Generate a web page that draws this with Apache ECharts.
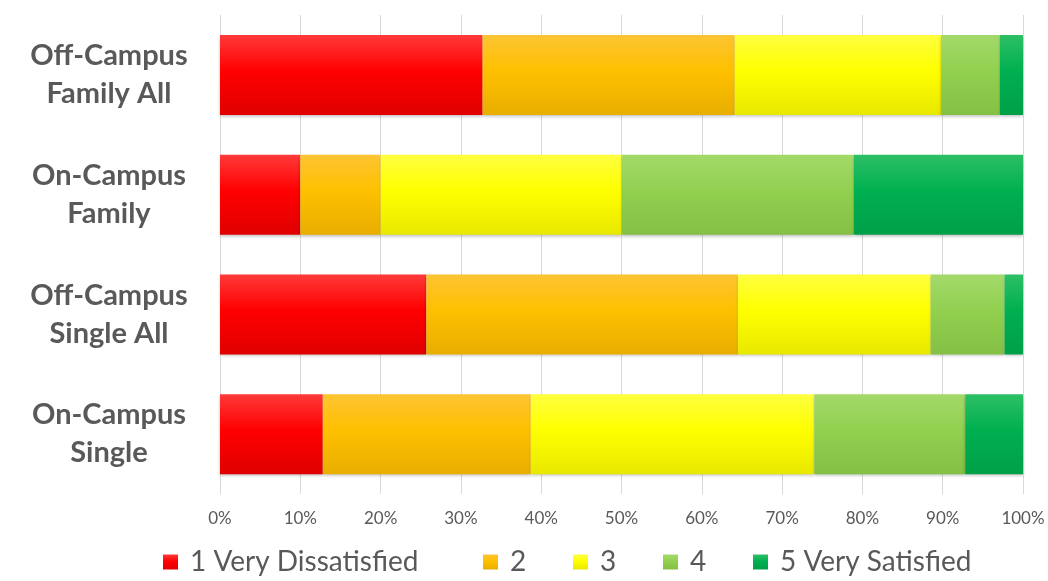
<!DOCTYPE html>
<html>
<head>
<meta charset="utf-8">
<script src="https://cdn.jsdelivr.net/npm/echarts@6/dist/echarts.min.js"></script>
<style>
html,body{margin:0;padding:0;background:#fff;}
#c{width:1048px;height:581px;}
</style>
</head>
<body>
<div id="c"></div>
<script>
const categories = ["Off-Campus\nFamily All", "On-Campus\nFamily", "Off-Campus\nSingle All", "On-Campus\nSingle"];
const seriesNames = ["1 Very Dissatisfied", "2", "3", "4", "5 Very Satisfied"];
const s1 = [32.7, 10.0, 25.7, 12.8];
const s2 = [31.4, 10.0, 38.8, 25.9];
const s3 = [25.7, 30.0, 24.0, 35.3];
const s4 = [7.3, 28.9, 9.2, 18.8];
const s5 = [2.9, 21.1, 2.3, 7.2];
const xTicks = [0, 10, 20, 30, 40, 50, 60, 70, 80, 90, 100];

const palettes = [
  ['#ff3a3a', '#ff0000', '#e00000'],
  ['#fcc433', '#ffc000', '#e8ae00'],
  ['#ffff40', '#ffff00', '#e8e800'],
  ['#a3d96a', '#92d050', '#84c044'],
  ['#2dbf66', '#00b050', '#00a048']
];
function grad(p) {
  return new echarts.graphic.LinearGradient(0, 0, 0, 1, [
    {offset: 0, color: p[0]}, {offset: 0.45, color: p[1]}, {offset: 1, color: p[2]}
  ]);
}
const values = [s1, s2, s3, s4, s5];
const legendLefts = [163, 483, 573, 663, 753];
const chart = echarts.init(document.getElementById('c'));
chart.setOption({
  animation: false,
  backgroundColor: '#ffffff',
  grid: {left: 220, right: 25, top: 15, bottom: 87, containLabel: false},
  xAxis: {
    type: 'value', min: 0, max: 100, interval: 10,
    axisLine: {show: false}, axisTick: {show: false},
    splitLine: {show: true, lineStyle: {color: '#d9d9d9', width: 1}},
    axisLabel: {formatter: v => xTicks.includes(v) ? v + '%' : '', color: '#595959', fontFamily: 'Lato', fontSize: 17, margin: 16}
  },
  yAxis: {
    type: 'category', data: categories, inverse: true,
    axisLine: {show: true, lineStyle: {color: '#d9d9d9'}}, axisTick: {show: false},
    axisLabel: {color: '#595959', fontFamily: 'Lato', fontWeight: 'bold', fontSize: 29, lineHeight: 38, align: 'center', margin: 111}
  },
  legend: seriesNames.map((n, i) => ({
    left: legendLefts[i], top: 548, itemWidth: 15, itemHeight: 15, icon: 'rect', padding: 0,
    textStyle: {color: '#595959', fontFamily: 'Lato', fontSize: 28, padding: [0, 0, 0, 7]},
    data: [n]
  })),
  series: seriesNames.map((n, i) => ({
    name: n, type: 'bar', stack: 'total', data: values[i],
    barWidth: 80,
    itemStyle: {color: grad(palettes[i]), shadowColor: 'rgba(0,0,0,0.25)', shadowBlur: 3, shadowOffsetY: 2}
  }))
});
</script>
</body>
</html>
